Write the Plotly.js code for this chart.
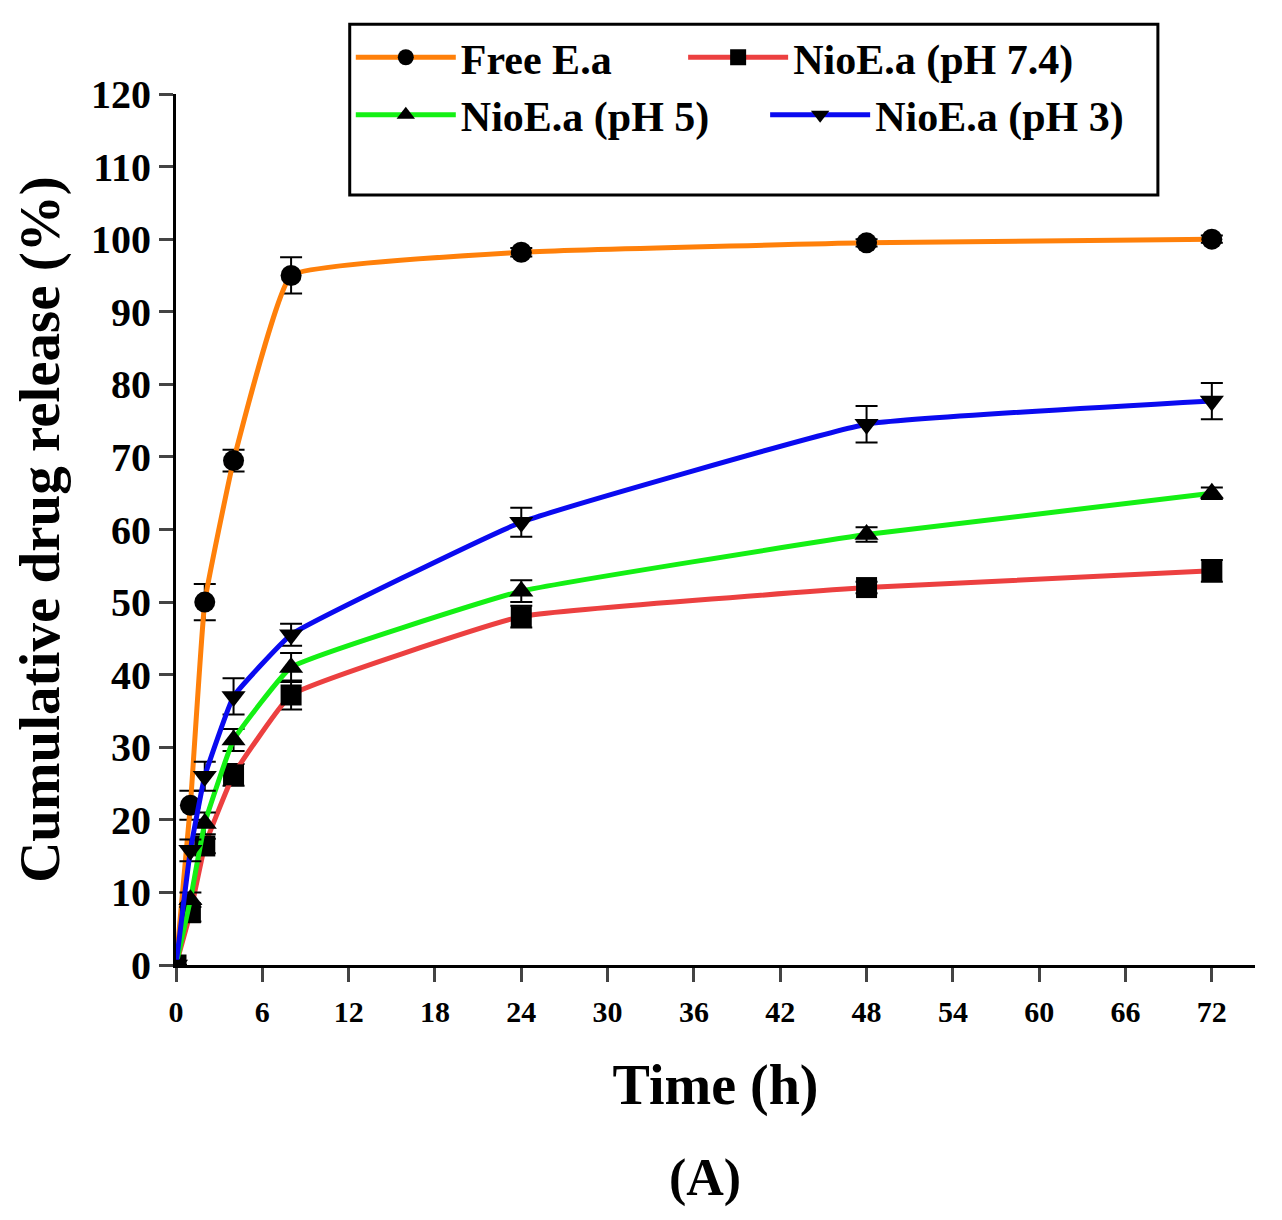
<!DOCTYPE html>
<html>
<head>
<meta charset="utf-8">
<script src="https://cdn.plot.ly/plotly-3.0.1.min.js"></script>
<style>body{margin:0;background:#fff}</style>
</head>
<body>
<div id="chart" style="width:1282px;height:1220px"></div>
<script>
var timeH = [0, 1, 2, 4, 8, 24, 48, 72];

var freeEa   = [0, 22, 50, 69.5, 95, 98.2, 99.5, 100];
var freeErr  = [0, 2, 2.5, 1.5, 2.5, 0.6, 0.5, 0.5];
var ph74     = [0, 7.2, 16.4, 26.2, 37.2, 48, 52, 54.3];
var ph74Err  = [0, 1.2, 1, 1.5, 2, 1.5, 0.8, 1.5];
var ph5      = [0, 9, 19.5, 31, 41, 51.5, 59.3, 65];
var ph5Err   = [0, 1, 1.5, 1.5, 2, 1.5, 1, 0.8];
var ph3      = [0, 15.8, 26, 37, 45.5, 61, 74.5, 77.7];
var ph3Err   = [0, 1.5, 2, 2.5, 1.5, 2, 2.5, 2.5];

var xTicks = [0, 6, 12, 18, 24, 30, 36, 42, 48, 54, 60, 66, 72];
var yTicks = [0, 10, 20, 30, 40, 50, 60, 70, 80, 90, 100, 110, 120];

function series(name, y, err, color, symbol, legendId) {
  return {
    x: timeH,
    y: y,
    name: name,
    legend: legendId,
    type: 'scatter',
    mode: 'lines+markers',
    line: { color: color, width: 5, shape: 'spline', smoothing: 0.3 },
    marker: { color: 'black', size: 21, symbol: symbol },
    error_y: { type: 'data', array: err, visible: true, color: 'black', thickness: 2, width: 11 }
  };
}

var data = [
  series('Free E.a', freeEa, freeErr, 'rgb(255,128,10)', 'circle', 'legend'),
  series('NioE.a (pH 7.4)', ph74, ph74Err, 'rgb(236,64,64)', 'square', 'legend2'),
  series('NioE.a (pH 5)', ph5, ph5Err, 'rgb(20,240,20)', 'triangle-up', 'legend3'),
  series('NioE.a (pH 3)', ph3, ph3Err, 'rgb(10,10,240)', 'triangle-down', 'legend4')
];

var font = "'Liberation Serif', 'Times New Roman', serif";

// one small legend per entry so each can sit where it does in the figure
function legendAt(x, y) {
  return {
    x: x, y: y, xanchor: 'left', yanchor: 'top',
    itemwidth: 100,
    font: { size: 42, family: font, weight: 'bold' },
    bgcolor: 'rgba(0,0,0,0)'
  };
}

var layout = {
  width: 1282,
  height: 1220,
  margin: { l: 176, r: 27, t: 94, b: 255 },
  paper_bgcolor: 'white',
  plot_bgcolor: 'white',
  font: { family: font, color: 'black', weight: 'bold' },
  showlegend: true,
  legend: legendAt(0.162, 1.081),
  legend2: legendAt(0.470, 1.081),
  legend3: legendAt(0.162, 1.015),
  legend4: legendAt(0.546, 1.015),
  xaxis: {
    range: [0, 75],
    tickvals: xTicks,
    ticks: 'outside', ticklen: 14, tickwidth: 3,
    ticklabelstandoff: 4,
    showline: true, linewidth: 3, linecolor: 'black',
    showgrid: false, zeroline: false,
    tickfont: { size: 30, family: font, weight: 'bold' },
    title: { text: 'Time (h)', standoff: 38, font: { size: 56, family: font, weight: 'bold' } }
  },
  yaxis: {
    range: [0, 120],
    tickvals: yTicks,
    ticks: 'outside', ticklen: 14, tickwidth: 3,
    showline: true, linewidth: 3, linecolor: 'black',
    showgrid: false, zeroline: false,
    tickfont: { size: 40, family: font, weight: 'bold' },
    title: { text: 'Cumulative drug release (%)', standoff: 14, font: { size: 57, family: font, weight: 'bold' } }
  },
  shapes: [{
    type: 'rect', xref: 'paper', yref: 'paper',
    x0: 0.161, x1: 0.910, y0: 0.884, y1: 1.080,
    line: { color: 'black', width: 3 }
  }],
  annotations: [{
    text: '(A)', xref: 'paper', yref: 'paper',
    x: 0.49, y: -0.2445, yanchor: 'middle', showarrow: false,
    font: { size: 52, family: font, weight: 'bold' }
  }]
};

Plotly.newPlot('chart', data, layout, { displayModeBar: false });
</script>
</body>
</html>
